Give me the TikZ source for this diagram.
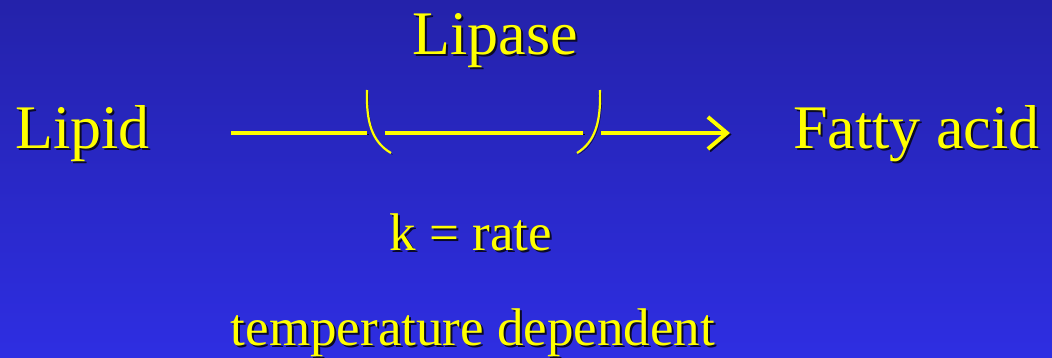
\documentclass[tikz,border=0pt]{standalone}
\usepackage{fontspec}
\setmainfont{Liberation Serif}
\usepackage{xcolor}
\definecolor{slidetop}{RGB}{36, 34, 170}
\definecolor{slidebot}{RGB}{46, 46, 226}
\definecolor{hiyellow}{RGB}{255, 255, 0}
\definecolor{shadowc}{RGB}{10, 10, 40}
\usetikzlibrary{arrows.meta}
\newcommand{\shtxt}[1]{\leavevmode\rlap{\kern2pt\raisebox{-2pt}{\color{shadowc}#1}}#1}

\begin{document}
\begin{tikzpicture}[x=1pt, y=1pt,
        bigtxt/.style={text=hiyellow, inner sep=0pt, font=\fontsize{62}{70}\selectfont},
        smalltxt/.style={text=hiyellow, inner sep=0pt, font=\fontsize{53}{60}\selectfont},
        dropsh/.style={preaction={draw=shadowc, transform canvas={xshift=1.5pt, yshift=-1.5pt}}},
        line/.style={draw=hiyellow, line width=4.5pt, dropsh},
        brk/.style={draw=hiyellow, line width=2.2pt, dropsh}]

        % Fondo
        \shade [top color=slidetop, bottom color=slidebot] (0,0) rectangle (1052,357);
        \useasboundingbox (0,0) rectangle (1052,357);

        % Textos
        \node [bigtxt, anchor=base] (lipase) at (495,302) {\shtxt{Lipase}};
        \node [bigtxt, anchor=base west] (lipid) at (15,209) {\shtxt{Lipid}};
        \node [bigtxt, anchor=base west] (fatty) at (793,209) {\shtxt{Fatty acid}};
        \node [smalltxt, anchor=base] (rate) at (471,107) {\shtxt{k = rate}};
        \node [smalltxt, anchor=base] (temp) at (473,12) {\shtxt{temperature dependent}};

        % Flecha de reaccion
        \coordinate (s0) at (231,224);
        \coordinate (s1) at (367,224);
        \coordinate (s2) at (385,224);
        \coordinate (s3) at (583,224);
        \coordinate (s4) at (601,224);
        \coordinate (tip) at (730,224);
        \path [line] (s0) -- (s1);
        \path [line] (s2) -- (s3);
        \path [line, -{Straight Barb[length=19pt, width=32pt, line width=4pt]}] (s4) -- (tip);

        % Parentesis
        \path [brk] (367,267) .. controls (366,235) and (372,215) .. (391,204);
        \path [brk] (600,267) .. controls (601,235) and (595,215) .. (577,204);
    \end{tikzpicture}
\end{document}
